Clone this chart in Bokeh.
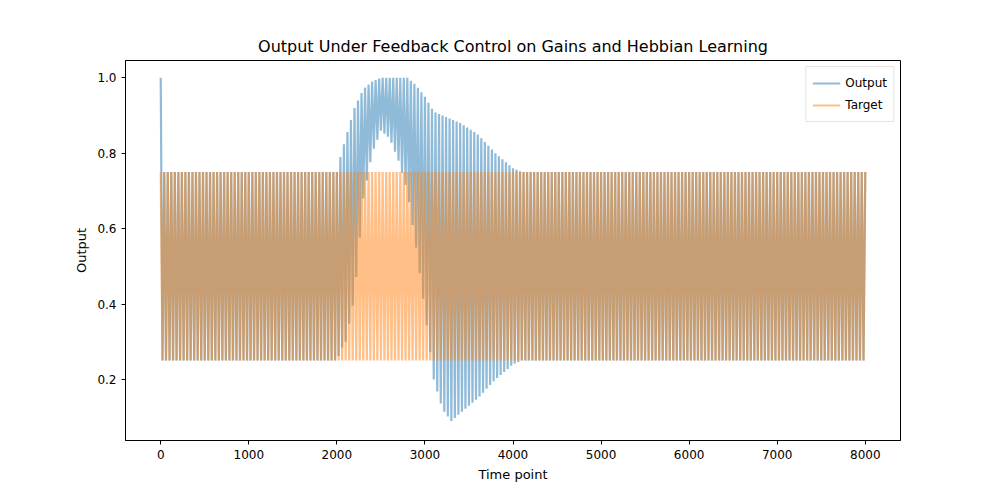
import numpy as np
from bokeh.plotting import figure
from bokeh.models import ColumnDataSource, FixedTicker, Legend, LegendItem
from bokeh.embed import file_html
from bokeh.resources import INLINE

# envelope of the output signal (time, upper, lower)
env_t = [0, 2000, 2050, 2100, 2200, 2300, 2400, 2500, 2600, 2700, 2800, 2900,
         3000, 3100, 3200, 3300, 3400, 3600, 3800, 4000, 4100, 8000]
env_hi = [0.75, 0.75, 0.80, 0.84, 0.92, 0.97, 0.99, 1.0, 1.0, 1.0, 1.0, 0.98,
          0.95, 0.91, 0.90, 0.89, 0.88, 0.85, 0.80, 0.76, 0.75, 0.75]
env_lo = [0.25, 0.25, 0.28, 0.30, 0.42, 0.68, 0.80, 0.86, 0.84, 0.78, 0.70, 0.55,
          0.38, 0.20, 0.12, 0.09, 0.11, 0.15, 0.20, 0.24, 0.25, 0.25]
target_hi = 0.75
target_lo = 0.25
period = 40
t_end = 8000

# alternate between the envelopes every half period
half = period // 2
tt = np.arange(0, t_end + 1, half)
phase = (tt // half) % 2 == 0
out = np.where(phase, np.interp(tt, env_t, env_hi), np.interp(tt, env_t, env_lo))
out[0] = 1.0
tgt = np.where(phase, target_hi, target_lo)

p = figure(width=984, height=484, output_backend="svg", toolbar_location=None,
           x_range=(-400, 8400), y_range=(0.038, 1.046),
           title="Output Under Feedback Control on Gains and Hebbian Learning",
           min_border_left=125, min_border_right=84, min_border_top=60, min_border_bottom=39)
p.title.align = "center"
p.title.text_font = "DejaVu Sans"
p.title.text_font_style = "normal"
p.title.text_font_size = "16px"
p.title.text_color = "black"
p.grid.visible = False
p.outline_line_color = "black"
p.xaxis.ticker = FixedTicker(ticks=list(range(0, 8001, 1000)))
p.yaxis.ticker = FixedTicker(ticks=[0.2, 0.4, 0.6, 0.8, 1.0])
p.yaxis.major_label_overrides = {0.2: "0.2", 0.4: "0.4", 0.6: "0.6", 0.8: "0.8", 1.0: "1.0"}
p.xaxis.axis_label = "Time point"
p.yaxis.axis_label = "Output"
for ax in (p.xaxis, p.yaxis):
    ax.axis_label_text_font = "DejaVu Sans"
    ax.axis_label_text_font_style = "normal"
    ax.axis_label_text_font_size = "13px"
    ax.axis_label_text_color = "black"
    ax.major_label_text_font = "DejaVu Sans"
    ax.major_label_text_font_size = "12px"
    ax.major_label_text_color = "black"
    ax.axis_line_color = "black"
    ax.major_tick_line_color = "black"
    ax.minor_tick_line_color = None
    ax.major_tick_in = 0
    ax.major_tick_out = 4

src = ColumnDataSource(dict(t=tt, out=out, tgt=tgt))
r1 = p.line("t", "out", source=src, line_color="#1f77b4", line_alpha=0.5, line_width=2.2)
r2 = p.line("t", "tgt", source=src, line_color="#ff7f0e", line_alpha=0.5, line_width=2.2)

legend = Legend(items=[LegendItem(label="Output", renderers=[r1]),
                       LegendItem(label="Target", renderers=[r2])],
                location="top_right", label_text_font="DejaVu Sans",
                label_text_font_size="12px", label_text_color="black",
                border_line_color="#cccccc", glyph_width=28, spacing=2, padding=6, margin=6)
p.add_layout(legend)

open("out.html", "w").write(file_html(p, INLINE))
